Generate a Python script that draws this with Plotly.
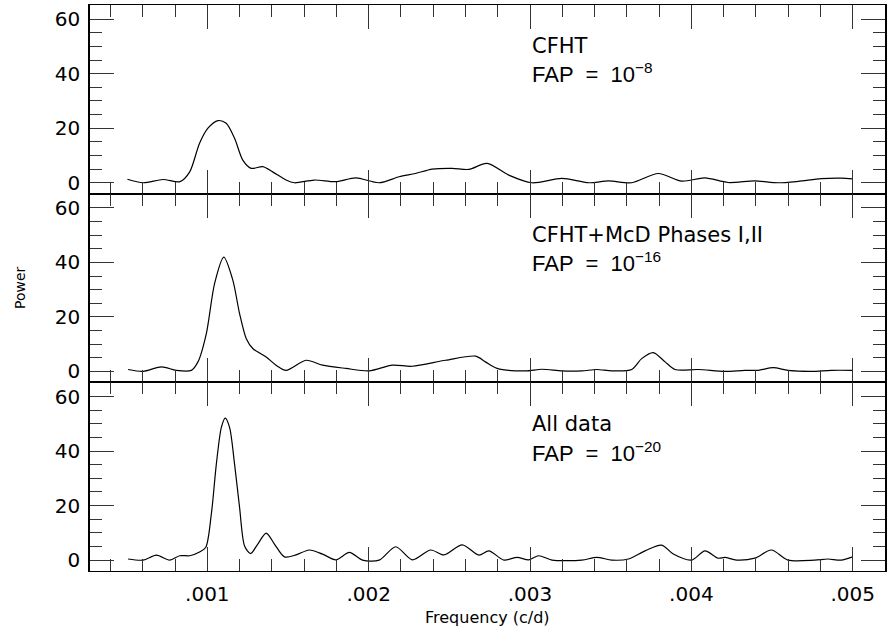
import plotly.graph_objects as go
from plotly.subplots import make_subplots

# ---------------- data ----------------
freq_cfht = [0.000505, 0.000602, 0.000726, 0.000830, 0.000891, 0.000952, 0.001004, 0.001066,
             0.001117, 0.001169, 0.00122, 0.001272, 0.001344, 0.001405, 0.001488, 0.00154,
             0.001663, 0.001797, 0.00192, 0.002065, 0.002189, 0.00229, 0.002394, 0.002518,
             0.002621, 0.002734, 0.002868, 0.003012, 0.003198, 0.003363, 0.003487, 0.00363,
             0.003795, 0.00394, 0.004084, 0.004228, 0.004393, 0.004537, 0.004661, 0.004805,
             0.004928, 0.005]
power_cfht = [1.3, 0, 1.2, 0.4, 4.0, 14.5, 20.0, 22.8, 21.8, 16.3, 8.3, 5.3, 5.9, 4.0, 1.0, 0,
              1.0, 0.4, 1.8, 0, 2.2, 3.4, 5.0, 5.3, 4.9, 7.1, 2.8, 0, 1.6, 0, 0.7, 0,
              3.4, 0.6, 1.8, 0.1, 0.7, 0, 0.5, 1.5, 1.7, 1.4]

freq_mcd = [0.000509, 0.000602, 0.000716, 0.000808, 0.000901, 0.000942, 0.000994, 0.001045,
            0.001102, 0.001158, 0.0012, 0.001241, 0.001282, 0.001365, 0.001426, 0.001488,
            0.001612, 0.001714, 0.001859, 0.002003, 0.002147, 0.00227, 0.002477, 0.002663,
            0.002724, 0.002796, 0.002972, 0.003074, 0.003198, 0.003321, 0.003414, 0.003507,
            0.00363, 0.003692, 0.003764, 0.003837, 0.003899, 0.004043, 0.004208, 0.004331,
            0.004414, 0.004507, 0.004599, 0.004743, 0.004867, 0.005]
power_mcd = [0.7, 0, 1.7, 0.4, 0.4, 3.5, 13.9, 32.2, 41.9, 33.5, 21.2, 12.1, 8.4, 5.3, 2.3, 0.4,
             4.1, 2.3, 1.1, 0.2, 2.3, 1.9, 4.1, 5.6, 3.5, 1.1, 0.2, 0.8, 0.2, 0.2, 0.7, 0.2,
             0.7, 4.7, 6.9, 3.5, 0.7, 0.7, 0, 0.4, 0.4, 1.4, 0.4, 0, 0.4, 0.4]

freq_all = [0.000509, 0.000602, 0.000685, 0.000767, 0.000829, 0.000891, 0.000952, 0.00099,
            0.001025, 0.001056, 0.001087, 0.001111, 0.001138, 0.001169, 0.0012, 0.001231,
            0.001268, 0.001313, 0.001365, 0.001416, 0.001478, 0.00155, 0.001632, 0.001714,
            0.001797, 0.00188, 0.001962, 0.002065, 0.002168, 0.00227, 0.002384, 0.002467,
            0.00258, 0.002683, 0.002745, 0.002838, 0.00292, 0.002992, 0.003054, 0.003136,
            0.003321, 0.003414, 0.003507, 0.00361, 0.003713, 0.003816, 0.003888, 0.004001,
            0.004084, 0.004166, 0.004208, 0.00428, 0.004393, 0.004496, 0.004599, 0.004764,
            0.004846, 0.004928, 0.005]
power_all = [0.4, 0, 1.8, 0, 1.6, 1.6, 3.0, 4.6, 16.9, 35.2, 48.7, 52.1, 48.7, 35.2, 19.3, 5.2,
             2.4, 5.9, 9.9, 5.9, 1.2, 1.9, 3.7, 2.2, 0.1, 2.8, 0, 0, 4.9, 0.1, 3.7, 1.9,
             5.6, 1.8, 3.4, 0, 1.0, 0.1, 1.6, 0, 0, 1.0, 0, 0.4, 3.4, 5.5, 2.2, 0,
             3.4, 0.7, 1.0, 0, 0.7, 3.7, 0, 0, 0.4, 0, 1.2]

panel_titles = ["CFHT", "CFHT+McD Phases I,II", "All data"]
fap_exponents = ["−8", "−16", "−20"]

x_tickvals = [0.001, 0.002, 0.003, 0.004, 0.005]
x_ticktext = [".001", ".002", ".003", ".004", ".005"]
y_tickvals = [0, 20, 40, 60]

# ---------------- figure ----------------
FONT = "DejaVu Sans, Liberation Sans, Arial, sans-serif"
FAPFONT = "Liberation Sans, Arial, sans-serif"
fig = make_subplots(rows=3, cols=1, shared_xaxes=True, vertical_spacing=0)

series = [(freq_cfht, power_cfht), (freq_mcd, power_mcd), (freq_all, power_all)]
for i, (f, p) in enumerate(series, start=1):
    fig.add_trace(go.Scatter(x=f, y=p, mode="lines",
                             line=dict(color="black", width=1.2, shape="spline", smoothing=0.8),
                             showlegend=False, hoverinfo="skip"), row=i, col=1)

for i in range(1, 4):
    fig.update_xaxes(row=i, col=1,
                     range=[0.000273, 0.0052], tickvals=x_tickvals, ticktext=x_ticktext,
                     showticklabels=(i == 3), ticks="inside", ticklen=24, tickwidth=1.2,
                     tickcolor="#333", mirror="ticks", showline=True, linecolor="black",
                     linewidth=1, showgrid=False, zeroline=False,
                     tickfont=dict(family=FONT, size=20, color="black"),
                     ticklabelstandoff=5,
                     minor=dict(ticks="inside", ticklen=12, tick0=0, dtick=0.0002,
                                tickcolor="#333", tickwidth=1.2, showgrid=False))
    fig.update_yaxes(row=i, col=1,
                     range=[-4.0, 65.2], tickvals=y_tickvals,
                     ticks="inside", ticklen=24, tickwidth=1.2, tickcolor="#333",
                     mirror="ticks", showline=True, linecolor="black", linewidth=1.5,
                     showgrid=False, zeroline=False,
                     tickfont=dict(family=FONT, size=20, color="black"),
                     ticklabelstandoff=4,
                     minor=dict(ticks="inside", ticklen=12, tick0=0, dtick=5,
                                tickcolor="#333", tickwidth=1.2, showgrid=False))

annotations = []
title_y = [0.9267, 0.5936, 0.2597]
fap_y = [0.8807, 0.5468, 0.2111]
for t, e, ty, fy in zip(panel_titles, fap_exponents, title_y, fap_y):
    annotations.append(dict(text=t, x=0.554, y=ty, xref="paper", yref="paper",
                            xanchor="left", yanchor="middle", showarrow=False,
                            font=dict(family=FONT, size=21, color="black")))
    annotations.append(dict(text="FAP  =  10<sup>" + e + "</sup>", x=0.554, y=fy,
                            xref="paper", yref="paper", xanchor="left", yanchor="middle",
                            showarrow=False, font=dict(family=FAPFONT, size=22, color="black")))

annotations.append(dict(text="Power", x=-0.088, y=0.5, xref="paper", yref="paper",
                        textangle=-90, showarrow=False, xanchor="center", yanchor="middle",
                        font=dict(family=FONT, size=14, color="black")))
annotations.append(dict(text="Frequency (c/d)", x=0.5, y=-0.083, xref="paper", yref="paper",
                        showarrow=False, xanchor="center", yanchor="middle",
                        font=dict(family=FONT, size=16, color="black")))

fig.update_layout(width=888, height=636,
                  margin=dict(l=90, r=1, t=5, b=65),
                  plot_bgcolor="white", paper_bgcolor="white",
                  annotations=annotations,
                  font=dict(family=FONT, color="black"))

fig.write_html("out.html", config={"displayModeBar": False},
               post_script="document.body.style.margin='0px';document.body.style.padding='0px';")
